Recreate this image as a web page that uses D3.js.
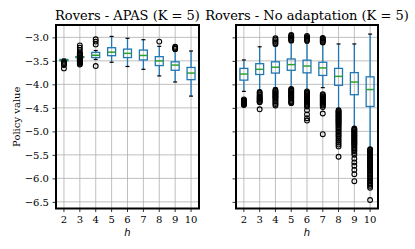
<!DOCTYPE html>
<html><head><meta charset="utf-8">
<script src="https://cdn.jsdelivr.net/npm/d3@7"></script>
<style>body{margin:0;background:#fff}svg{display:block}</style>
</head><body>
<script>
const hValues = [2,3,4,5,6,7,8,9,10];
const yTicks = [-3.0,-3.5,-4.0,-4.5,-5.0,-5.5,-6.0,-6.5];
const titles = ["Rovers - APAS (K = 5)", "Rovers - No adaptation (K = 5)"];

// APAS: [whiskerLow, q1, median, q3, whiskerHigh]
const apasStats = [
  [-3.51,-3.50,-3.485,-3.47,-3.46],
  [-3.44,-3.43,-3.42,-3.41,-3.40],
  [-3.47,-3.43,-3.38,-3.32,-3.28],
  [-3.53,-3.39,-3.315,-3.22,-2.98],
  [-3.62,-3.43,-3.34,-3.25,-3.02],
  [-3.68,-3.48,-3.385,-3.27,-3.05],
  [-3.82,-3.60,-3.50,-3.41,-3.19],
  [-3.95,-3.70,-3.59,-3.52,-3.30],
  [-4.25,-3.90,-3.76,-3.64,-3.29]
];
const apasOutliers = [
  [-3.52,-3.545,-3.57,-3.59,-3.66],
  [-3.17,-3.22,-3.27,-3.32,-3.34,-3.36,-3.37,-3.385,-3.39,-3.445,-3.45,-3.46,-3.47,-3.48,-3.49,-3.50,-3.51,-3.52,-3.53,-3.545,-3.56,-3.58],
  [-3.04,-3.09,-3.15,-3.61],
  [],
  [],
  [],
  [-3.09],
  [-3.20,-3.22,-3.24,-3.25],
  []
];

// No adaptation
const noadStats = [
  [-4.15,-3.91,-3.78,-3.66,-3.48],
  [-4.13,-3.79,-3.68,-3.56,-3.20],
  [-4.07,-3.76,-3.635,-3.52,-3.18],
  [-4.08,-3.70,-3.58,-3.46,-3.10],
  [-4.13,-3.755,-3.61,-3.485,-3.12],
  [-4.07,-3.81,-3.65,-3.53,-3.15],
  [-4.52,-4.02,-3.83,-3.66,-3.14],
  [-4.92,-4.22,-3.95,-3.75,-3.14],
  [-5.35,-4.47,-4.11,-3.84,-2.93]
];
const noadOutliers = [
  [-4.32,-4.335,-4.35,-4.36,-4.37,-4.38,-4.39,-4.40,-4.41,-4.42,-4.43,-4.44],
  [-4.16,-4.19,-4.22,-4.25,-4.27,-4.29,-4.31,-4.33,-4.35,-4.37,-4.38,-4.53],
  [-3.02,-3.05,-3.08,-3.11,-3.14,-4.12,-4.14,-4.16,-4.18,-4.20,-4.22,-4.24,-4.26,-4.28,-4.30,-4.33,-4.36,-4.39,-4.42,-4.45],
  [-2.95,-2.97,-2.99,-3.01,-3.03,-3.05,-3.07,-4.10,-4.12,-4.14,-4.16,-4.18,-4.20,-4.22,-4.24,-4.26,-4.28,-4.30,-4.33,-4.36,-4.38,-4.40],
  [-2.97,-2.99,-3.01,-3.03,-3.05,-3.07,-4.15,-4.17,-4.19,-4.21,-4.23,-4.25,-4.27,-4.29,-4.31,-4.33,-4.35,-4.37,-4.39,-4.41,-4.43,-4.45,-4.47,-4.55,-4.64,-4.72,-4.77],
  [-3.01,-3.03,-3.05,-3.07,-3.09,-3.11,-4.21,-4.23,-4.25,-4.27,-4.29,-4.31,-4.33,-4.35,-4.37,-4.39,-4.41,-4.43,-4.45,-4.48,-4.62,-5.06],
  [-4.55,-4.57,-4.59,-4.61,-4.63,-4.65,-4.67,-4.69,-4.71,-4.73,-4.75,-4.77,-4.79,-4.81,-4.83,-4.86,-4.88,-4.91,-4.94,-4.97,-5.00,-5.03,-5.06,-5.09,-5.12,-5.16,-5.20,-5.24,-5.28,-5.32,-5.54],
  [-4.94,-4.96,-4.98,-5.00,-5.02,-5.04,-5.06,-5.08,-5.10,-5.12,-5.14,-5.16,-5.18,-5.20,-5.22,-5.24,-5.26,-5.28,-5.30,-5.33,-5.36,-5.39,-5.42,-5.46,-5.50,-5.58,-5.66,-5.73,-5.82,-5.91,-6.06],
  [-5.38,-5.40,-5.42,-5.44,-5.46,-5.48,-5.50,-5.52,-5.54,-5.56,-5.58,-5.60,-5.62,-5.64,-5.66,-5.68,-5.70,-5.72,-5.74,-5.76,-5.78,-5.80,-5.83,-5.86,-5.89,-5.92,-5.95,-5.98,-6.01,-6.04,-6.07,-6.10,-6.13,-6.16,-6.20,-6.46]
];

const W = 415, H = 249;
const plotTop = 25, plotBottom = 208.5;
const panels = [
  {x0: 56, x1: 199, stats: apasStats, outl: apasOutliers, title: titles[0], labels: true},
  {x0: 236, x1: 378, stats: noadStats, outl: noadOutliers, title: titles[1], labels: false}
];
const blue = "#1f77b4", green = "#2ca02c";

const svg = d3.select("body").append("svg").attr("width", W).attr("height", H);
const y = d3.scaleLinear().domain([-6.641, -2.737]).range([plotBottom, plotTop]);

panels.forEach(p => {
  const x = d3.scaleBand().domain(hValues).range([p.x0, p.x1]).padding(0);
  const bw = x.bandwidth();
  const cx = h => x(h) + bw / 2;
  const g = svg.append("g");

  // grid
  g.selectAll(".gx").data(hValues).enter().append("line")
    .attr("x1", d => cx(d)).attr("x2", d => cx(d)).attr("y1", plotTop).attr("y2", plotBottom)
    .attr("stroke", "#b0b0b0").attr("stroke-width", 0.8);
  g.selectAll(".gy").data(yTicks).enter().append("line")
    .attr("x1", p.x0).attr("x2", p.x1).attr("y1", d => y(d)).attr("y2", d => y(d))
    .attr("stroke", "#b0b0b0").attr("stroke-width", 0.8);

  // boxes
  const boxW = bw * 0.5, capW = bw * 0.25;
  hValues.forEach((h, i) => {
    const [wl, q1, md, q3, wh] = p.stats[i];
    const c = cx(h);
    g.append("line").attr("x1", c).attr("x2", c).attr("y1", y(q3)).attr("y2", y(wh)).attr("stroke", blue).attr("stroke-width", 1.3);
    g.append("line").attr("x1", c).attr("x2", c).attr("y1", y(q1)).attr("y2", y(wl)).attr("stroke", blue).attr("stroke-width", 1.3);
    g.append("line").attr("x1", c - capW/2).attr("x2", c + capW/2).attr("y1", y(wh)).attr("y2", y(wh)).attr("stroke", "#000").attr("stroke-width", 1.2);
    g.append("line").attr("x1", c - capW/2).attr("x2", c + capW/2).attr("y1", y(wl)).attr("y2", y(wl)).attr("stroke", "#000").attr("stroke-width", 1.2);
    g.append("rect").attr("x", c - boxW/2).attr("width", boxW).attr("y", y(q3)).attr("height", Math.max(0.01, y(q1) - y(q3)))
      .attr("fill", "none").attr("stroke", blue).attr("stroke-width", 1.3);
    g.append("line").attr("x1", c - boxW/2).attr("x2", c + boxW/2).attr("y1", y(md)).attr("y2", y(md)).attr("stroke", green).attr("stroke-width", 1.5);
    g.selectAll(null).data(p.outl[i]).enter().append("circle")
      .attr("cx", c).attr("cy", d => y(d)).attr("r", 2.4)
      .attr("fill", "none").attr("stroke", "#000").attr("stroke-width", 1.1);
  });

  // axes
  const ax = g.append("g").attr("transform", `translate(0,${plotBottom})`)
    .call(d3.axisBottom(x).tickSize(3.5).tickPadding(3.5).tickSizeOuter(0));
  const ay = g.append("g").attr("transform", `translate(${p.x0},0)`)
    .call(d3.axisLeft(y).tickValues(yTicks).tickSize(3.5).tickPadding(3.5).tickSizeOuter(0)
      .tickFormat(p.labels ? (d => d3.format(".1f")(d).replace("-", "\u2212")) : (() => "")));
  [ax, ay].forEach(a => {
    a.select(".domain").remove();
    a.selectAll("line").attr("stroke", "#000").attr("stroke-width", 0.8);
    a.selectAll("text").attr("font-family", "DejaVu Serif").attr("font-size", 10).attr("fill", "#000");
  });

  // frame
  g.append("rect").attr("x", p.x0).attr("y", plotTop).attr("width", p.x1 - p.x0).attr("height", plotBottom - plotTop)
    .attr("fill", "none").attr("stroke", "#000").attr("stroke-width", 2);

  // title
  g.append("text").attr("x", (p.x0 + p.x1) / 2).attr("y", 20).attr("text-anchor", "middle")
    .attr("font-family", "DejaVu Serif").attr("font-size", 13).text(p.title);
  // xlabel
  g.append("text").attr("x", (p.x0 + p.x1) / 2).attr("y", 236).attr("text-anchor", "middle")
    .attr("font-family", "DejaVu Sans").attr("font-style", "italic").attr("font-size", 10).text("h");
});

svg.append("text").attr("transform", `translate(20,${(plotTop + plotBottom) / 2}) rotate(-90)`)
  .attr("text-anchor", "middle").attr("font-family", "DejaVu Serif").attr("font-size", 10).text("Policy value");
</script>
</body></html>
